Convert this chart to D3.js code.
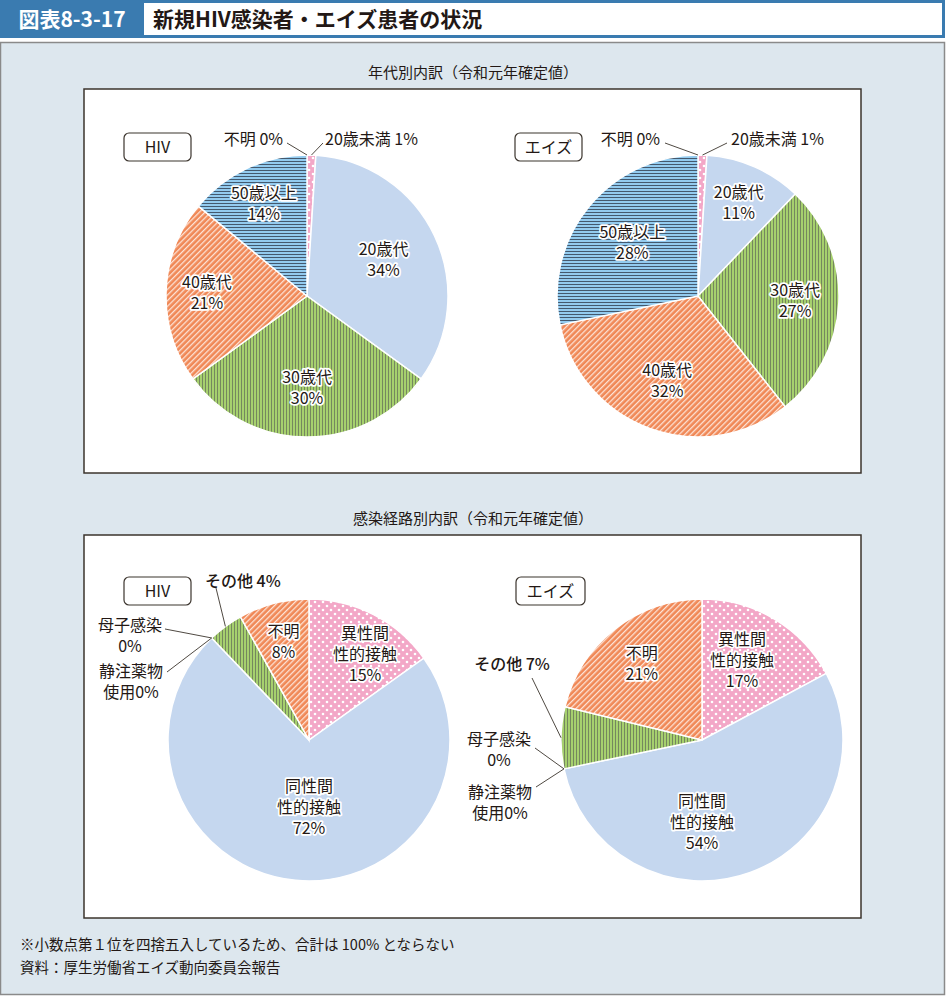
<!DOCTYPE html>
<html>
<head>
<meta charset="utf-8">
<script src="https://cdn.jsdelivr.net/npm/d3@7"></script>
<style>
  body { margin: 0; background: #fff; }
  svg { display: block; font-family: "Noto Sans CJK JP", "Noto Sans", sans-serif; }
  .lbl { font-size: 16px; fill: #231815; }
  .halo { stroke: #fff; stroke-width: 3.5px; stroke-linejoin: round; paint-order: stroke; }
</style>
</head>
<body>
<div id="chart"></div>
<script>
////////////////////////////  Data  ////////////////////////////
const ageNames = ["20歳未満", "20歳代", "30歳代", "40歳代", "50歳以上", "不明"];
const ageHiv = [1, 34, 30, 21, 14, 0];
const ageAids = [1, 11, 27, 32, 28, 0];

const routeNames = ["異性間性的接触", "同性間性的接触", "静注薬物使用", "母子感染", "その他", "不明"];
const routeHiv = [15, 72, 0, 0, 4, 8];
const routeAids = [17, 54, 0, 0, 7, 21];

const ageFills = ["url(#dots)", "#c5d7ef", "url(#vlines)", "url(#diag)", "url(#hlines)", "#ccc"];
const routeFills = ["url(#dots)", "#c5d7ef", "#ccc", "#ccc", "url(#vlines)", "url(#diag)"];

////////////////////////////  Init  ////////////////////////////
const width = 946, height = 996;
const svg = d3.select("#chart").append("svg").attr("width", width).attr("height", height);
const defs = svg.append("defs");

// patterns
const pDots = defs.append("pattern").attr("id", "dots").attr("patternUnits", "userSpaceOnUse")
  .attr("width", 8).attr("height", 8);
pDots.append("rect").attr("width", 8).attr("height", 8).attr("fill", "#f3a7c7");
pDots.append("circle").attr("cx", 2).attr("cy", 2).attr("r", 1.3).attr("fill", "#fff");
pDots.append("circle").attr("cx", 6).attr("cy", 6).attr("r", 1.3).attr("fill", "#fff");

const pV = defs.append("pattern").attr("id", "vlines").attr("patternUnits", "userSpaceOnUse")
  .attr("width", 3).attr("height", 3);
pV.append("rect").attr("width", 3).attr("height", 3).attr("fill", "#a6d06e");
pV.append("rect").attr("x", 0).attr("width", 0.9).attr("height", 3).attr("fill", "#6f7f5c");

const pD = defs.append("pattern").attr("id", "diag").attr("patternUnits", "userSpaceOnUse")
  .attr("width", 4).attr("height", 4).attr("patternTransform", "rotate(45)");
pD.append("rect").attr("width", 4).attr("height", 4).attr("fill", "#f08856");
pD.append("rect").attr("width", 1.3).attr("height", 4).attr("fill", "#fde3d6");

const pH = defs.append("pattern").attr("id", "hlines").attr("patternUnits", "userSpaceOnUse")
  .attr("width", 3).attr("height", 3);
pH.append("rect").attr("width", 3).attr("height", 3).attr("fill", "#93cbef");
pH.append("rect").attr("y", 0).attr("width", 3).attr("height", 1).attr("fill", "#44596e");

////////////////////////////  Frame  ////////////////////////////
svg.append("rect").attr("x", 1.5).attr("y", 1.5).attr("width", 942).attr("height", 35)
  .attr("fill", "#fff").attr("stroke", "#3a7bb0").attr("stroke-width", 3);
svg.append("rect").attr("x", 0).attr("y", 0).attr("width", 144).attr("height", 38).attr("fill", "#3a7bb0");
svg.append("text").attr("x", 72).attr("y", 27).attr("text-anchor", "middle")
  .attr("fill", "#fff").attr("font-size", 21).attr("font-weight", "bold").text("図表8-3-17");
svg.append("text").attr("x", 153).attr("y", 27)
  .attr("fill", "#231815").attr("font-size", 21).attr("font-weight", "bold").text("新規HIV感染者・エイズ患者の状況");

svg.append("rect").attr("x", 0.5).attr("y", 42.5).attr("width", 944).attr("height", 952)
  .attr("fill", "#dde7ee").attr("stroke", "#8a8a8a").attr("stroke-width", 1.5);

const panels = [
  { y: 89, h: 384, title: "年代別内訳（令和元年確定値）" },
  { y: 535, h: 383, title: "感染経路別内訳（令和元年確定値）" }
];
panels.forEach((p) => {
  svg.append("rect").attr("x", 84).attr("y", p.y).attr("width", 777).attr("height", p.h)
    .attr("fill", "#fff").attr("stroke", "#3b342d").attr("stroke-width", 1.5);
  svg.append("text").attr("x", 473).attr("y", p.y - 11).attr("text-anchor", "middle")
    .attr("class", "lbl").style("font-size", "15px").text(p.title);
});

svg.append("text").attr("x", 20).attr("y", 950).attr("class", "lbl").style("font-size", "14.5px")
  .text("※小数点第１位を四捨五入しているため、合計は 100% とならない");
svg.append("text").attr("x", 20).attr("y", 973).attr("class", "lbl").style("font-size", "14.5px")
  .text("資料：厚生労働省エイズ動向委員会報告");

////////////////////////////  Pies  ////////////////////////////
const R = 141;
const pie = d3.pie().sort(null).value((d) => d.v);
const arc = d3.arc().innerRadius(0).outerRadius(R);

function drawPie(cfg) {
  const g = svg.append("g").attr("transform", `translate(${cfg.cx},${cfg.cy})`);
  const data = cfg.names.map((n, i) => ({ n, v: cfg.values[i], fill: cfg.fills[i] }));
  const arcs = pie(data);

  g.selectAll("path").data(arcs.filter((d) => d.data.v > 0)).enter().append("path")
    .attr("d", arc).attr("fill", (d) => d.data.fill)
    .attr("stroke", "#fff").attr("stroke-width", 1.5);

  // tag box
  const tag = svg.append("g").attr("transform", `translate(${cfg.tag[0]},${cfg.tag[1]})`);
  tag.append("rect").attr("x", 0).attr("y", 0).attr("width", cfg.tag[2]).attr("height", 28)
    .attr("rx", 5).attr("fill", "#fff").attr("stroke", "#3b342d").attr("stroke-width", 1.2);
  tag.append("text").attr("x", cfg.tag[2] / 2).attr("y", 20).attr("text-anchor", "middle")
    .attr("class", "lbl").text(cfg.tagText);

  // inner labels
  cfg.inner.forEach((l) => {
    const a = arcs[l.i];
    const mid = (a.startAngle + a.endAngle) / 2;
    let x = Math.sin(mid) * R * l.r, y = -Math.cos(mid) * R * l.r;
    if (l.dx !== undefined) { x = l.dx; y = l.dy; }
    const t = g.append("text").attr("class", "lbl halo").attr("text-anchor", "middle");
    const lines = l.lines.concat([Math.round(a.data.v) + "%"]);
    const y0 = y - (lines.length - 1) * 10.5 + 5.5;
    lines.forEach((s, k) => t.append("tspan").attr("x", x).attr("y", y0 + k * 21).text(s));
  });

  // outer labels with leader lines
  cfg.outer.forEach((l) => {
    const a = arcs[l.i];
    const mid = (a.startAngle + a.endAngle) / 2;
    const px = Math.sin(mid) * R, py = -Math.cos(mid) * R;
    g.append("line").attr("x1", l.lx).attr("y1", l.ly).attr("x2", px).attr("y2", py)
      .attr("stroke", "#3b342d").attr("stroke-width", 0.9);
    const t = g.append("text").attr("class", "lbl").attr("text-anchor", l.anchor)
      .attr("font-weight", l.bold ? 500 : null);
    l.lines.forEach((s, k) => t.append("tspan").attr("x", l.tx).attr("y", l.ty + k * 21).text(s));
  });
}

drawPie({
  cx: 307, cy: 296, names: ageNames, values: ageHiv, fills: ageFills,
  tag: [124, 133, 67], tagText: "HIV",
  inner: [
    { i: 1, r: 0.6, lines: ["20歳代"] },
    { i: 2, r: 0.65, lines: ["30歳代"] },
    { i: 3, r: 0.71, lines: ["40歳代"] },
    { i: 4, r: 0.72, lines: ["50歳以上"] }
  ],
  outer: [
    { i: 5, lx: -20, ly: -153, tx: -24, ty: -151, anchor: "end", lines: ["不明 0%"] },
    { i: 0, lx: 16, ly: -153, tx: 18, ty: -151, anchor: "start", lines: ["20歳未満 1%"] }
  ]
});

drawPie({
  cx: 698, cy: 296, names: ageNames, values: ageAids, fills: ageFills,
  tag: [515, 133, 67], tagText: "エイズ",
  inner: [
    { i: 1, r: 0.72, lines: ["20歳代"] },
    { i: 2, r: 0.69, lines: ["30歳代"] },
    { i: 3, r: 0.64, lines: ["40歳代"] },
    { i: 4, r: 0.6, lines: ["50歳以上"] }
  ],
  outer: [
    { i: 5, lx: -33, ly: -153, tx: -38, ty: -151, anchor: "end", lines: ["不明 0%"] },
    { i: 0, lx: 29, ly: -153, tx: 33, ty: -151, anchor: "start", lines: ["20歳未満 1%"] }
  ]
});

drawPie({
  cx: 309, cy: 740, names: routeNames, values: routeHiv, fills: routeFills,
  tag: [124, 577, 67], tagText: "HIV",
  inner: [
    { i: 0, r: 0.73, dx: 56, dy: -86, lines: ["異性間", "性的接触"] },
    { i: 1, r: 0.5, dx: 0, dy: 67, lines: ["同性間", "性的接触"] },
    { i: 5, r: 0.72, lines: ["不明"] }
  ],
  outer: [
    { i: 4, lx: -93, ly: -152, tx: -104, ty: -153, anchor: "start", bold: true, lines: ["その他 4%"] },
    { i: 3, lx: -144, ly: -111, tx: -179, ty: -109, anchor: "middle", lines: ["母子感染", "0%"] },
    { i: 2, lx: -142, ly: -68, tx: -178, ty: -63, anchor: "middle", lines: ["静注薬物", "使用0%"] }
  ]
});

drawPie({
  cx: 702, cy: 740, names: routeNames, values: routeAids, fills: routeFills,
  tag: [516, 577, 69], tagText: "エイズ",
  inner: [
    { i: 0, r: 0.63, dx: 40, dy: -80, lines: ["異性間", "性的接触"] },
    { i: 1, r: 0.5, dx: 0, dy: 82, lines: ["同性間", "性的接触"] },
    { i: 5, r: 0.69, lines: ["不明"] }
  ],
  outer: [
    { i: 4, lx: -170, ly: -62, tx: -190, ty: -70, anchor: "middle", bold: true, lines: ["その他 7%"] },
    { i: 3, lx: -167, ly: 8, tx: -203, ty: 5, anchor: "middle", lines: ["母子感染", "0%"] },
    { i: 2, lx: -166, ly: 47, tx: -202, ty: 58, anchor: "middle", lines: ["静注薬物", "使用0%"] }
  ]
});
</script>
</body>
</html>
